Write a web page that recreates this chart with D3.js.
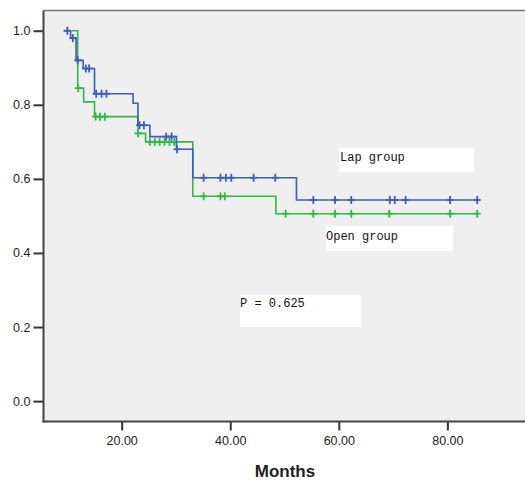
<!doctype html>
<html>
  <head>
    <meta charset="utf-8">
    <title>KM curves</title>
    <script src="https://d3js.org/d3.v7.min.js"></script>
    <style type="text/css">
      body { margin: 0; background-color: #ffffff; }
    </style>
  </head>
  <body>
    <script>
      // data
      var lapTimes = [9.3, 10.6, 11.6, 12.9, 15.0, 22.1, 23.0, 25.2, 30.1, 33.1, 52.2, 85.6];
      var lapSurv  = [1.0, 0.98, 0.92, 0.898, 0.83, 0.804, 0.745, 0.714, 0.68, 0.603, 0.543, 0.543];
      var lapCensored = [10.0, 11.0, 11.9, 13.4, 14.0, 15.3, 16.3, 17.2, 23.3, 24.1, 28.2, 29.2, 30.2,
                         35.1, 38.2, 39.2, 40.2, 44.3, 48.3, 55.3, 59.3, 62.3, 69.4, 70.3, 72.3, 80.5, 85.5];

      var openTimes = [10.8, 11.9, 13.0, 15.0, 23.0, 24.4, 33.1, 48.4, 85.6];
      var openSurv  = [1.0, 0.845, 0.808, 0.768, 0.723, 0.70, 0.553, 0.506, 0.506];
      var openCensored = [12.0, 15.2, 16.0, 16.9, 23.0, 25.2, 26.1, 27.0, 27.9, 28.8, 29.7,
                          35.1, 38.2, 39.0, 50.2, 55.3, 59.3, 62.3, 69.3, 80.5, 85.5];

      var xTicks = [20, 40, 60, 80];
      var yTicks = [0.0, 0.2, 0.4, 0.6, 0.8, 1.0];

      var w = 525, h = 480;
      var plotL = 43.5, plotT = 10.5, plotB = 421.5, plotR = 525;

      var x = d3.scaleLinear().domain([5.6, 94.3]).range([plotL, plotR]);
      var y = d3.scaleLinear().domain([-0.055, 1.0546]).range([plotB, plotT]);

      var svg = d3.select("body").append("svg")
        .attr("width", w)
        .attr("height", h);

      // plot background
      svg.append("rect")
        .attr("x", plotL).attr("y", plotT)
        .attr("width", plotR - plotL).attr("height", plotB - plotT)
        .style("fill", "#efefef");

      svg.append("line")
        .attr("x1", plotL).attr("x2", plotR)
        .attr("y1", plotT).attr("y2", plotT)
        .style("stroke", "#777").style("stroke-width", 1.5);

      // axes
      var xAxis = d3.axisBottom(x).tickValues(xTicks)
        .tickFormat(d3.format(".2f")).tickSize(9).tickPadding(6);
      var yAxis = d3.axisLeft(y).tickValues(yTicks)
        .tickFormat(d3.format(".1f")).tickSize(10).tickPadding(3);

      var gx = svg.append("g")
        .attr("transform", "translate(0," + plotB + ")")
        .call(xAxis);
      var gy = svg.append("g")
        .attr("transform", "translate(" + plotL + ",0)")
        .call(yAxis);

      [gx, gy].forEach(function(g) {
        g.select(".domain").remove();
        g.selectAll(".tick line").style("stroke", "#333").style("stroke-width", 2);
        g.selectAll(".tick text")
          .style("font-family", "Arial, 'Liberation Sans', sans-serif")
          .style("font-size", "12.5px")
          .style("fill", "#222");
      });

      svg.append("line")
        .attr("x1", plotL).attr("x2", plotL)
        .attr("y1", plotT).attr("y2", plotB + 1)
        .style("stroke", "#444").style("stroke-width", 2);
      svg.append("line")
        .attr("x1", plotL - 1).attr("x2", plotR)
        .attr("y1", plotB).attr("y2", plotB)
        .style("stroke", "#444").style("stroke-width", 2);

      svg.append("text")
        .attr("x", 285).attr("y", 477)
        .attr("text-anchor", "middle")
        .style("font-family", "Arial, 'Liberation Sans', sans-serif")
        .style("font-weight", "bold")
        .style("font-size", "17px")
        .style("fill", "#222")
        .text("Months");

      // label boxes
      var boxes = [
        { x: 339, y: 148, w: 135, h: 24, tx: 340, ty: 161, label: "Lap group" },
        { x: 326, y: 226, w: 127, h: 25, tx: 326, ty: 240, label: "Open group" },
        { x: 240, y: 295, w: 121, h: 32, tx: 240, ty: 307, label: "P = 0.625" }
      ];
      var gb = svg.selectAll("g.box").data(boxes).enter().append("g").attr("class", "box");
      gb.append("rect")
        .attr("x", function(d) { return d.x; })
        .attr("y", function(d) { return d.y; })
        .attr("width", function(d) { return d.w; })
        .attr("height", function(d) { return d.h; })
        .style("fill", "#ffffff");
      gb.append("text")
        .attr("x", function(d) { return d.tx; })
        .attr("y", function(d) { return d.ty; })
        .style("font-family", "'Liberation Mono', 'Courier New', monospace")
        .style("font-size", "12px")
        .style("fill", "#111")
        .text(function(d) { return d.label; });

      // survival curves
      var line = d3.line()
        .x(function(d) { return x(d[0]); })
        .y(function(d) { return y(d[1]); })
        .curve(d3.curveStepAfter);

      function survAt(times, surv, t) {
        var v = surv[0];
        for (var i = 0; i < times.length; i++) {
          if (times[i] <= t) v = surv[i];
        }
        return v;
      }

      function drawGroup(times, surv, censored, color) {
        var pts = times.map(function(t, i) { return [t, surv[i]]; });
        var g = svg.append("g");
        g.append("path")
          .attr("d", line(pts))
          .style("fill", "none")
          .style("stroke", color)
          .style("stroke-width", 1.6);
        var c = g.selectAll("g.cens")
          .data(censored)
          .enter().append("g")
          .attr("transform", function(t) {
            return "translate(" + x(t) + "," + y(survAt(times, surv, t)) + ")";
          });
        c.append("line").attr("x1", 0).attr("x2", 0).attr("y1", -4).attr("y2", 4)
          .style("stroke", color).style("stroke-width", 1.8);
        c.append("line").attr("x1", -3.5).attr("x2", 3.5).attr("y1", 0).attr("y2", 0)
          .style("stroke", color).style("stroke-width", 1.8);
      }

      drawGroup(openTimes, openSurv, openCensored, "#2fbb45");
      drawGroup(lapTimes, lapSurv, lapCensored, "#3d5db8");
    </script>
  </body>
</html>
